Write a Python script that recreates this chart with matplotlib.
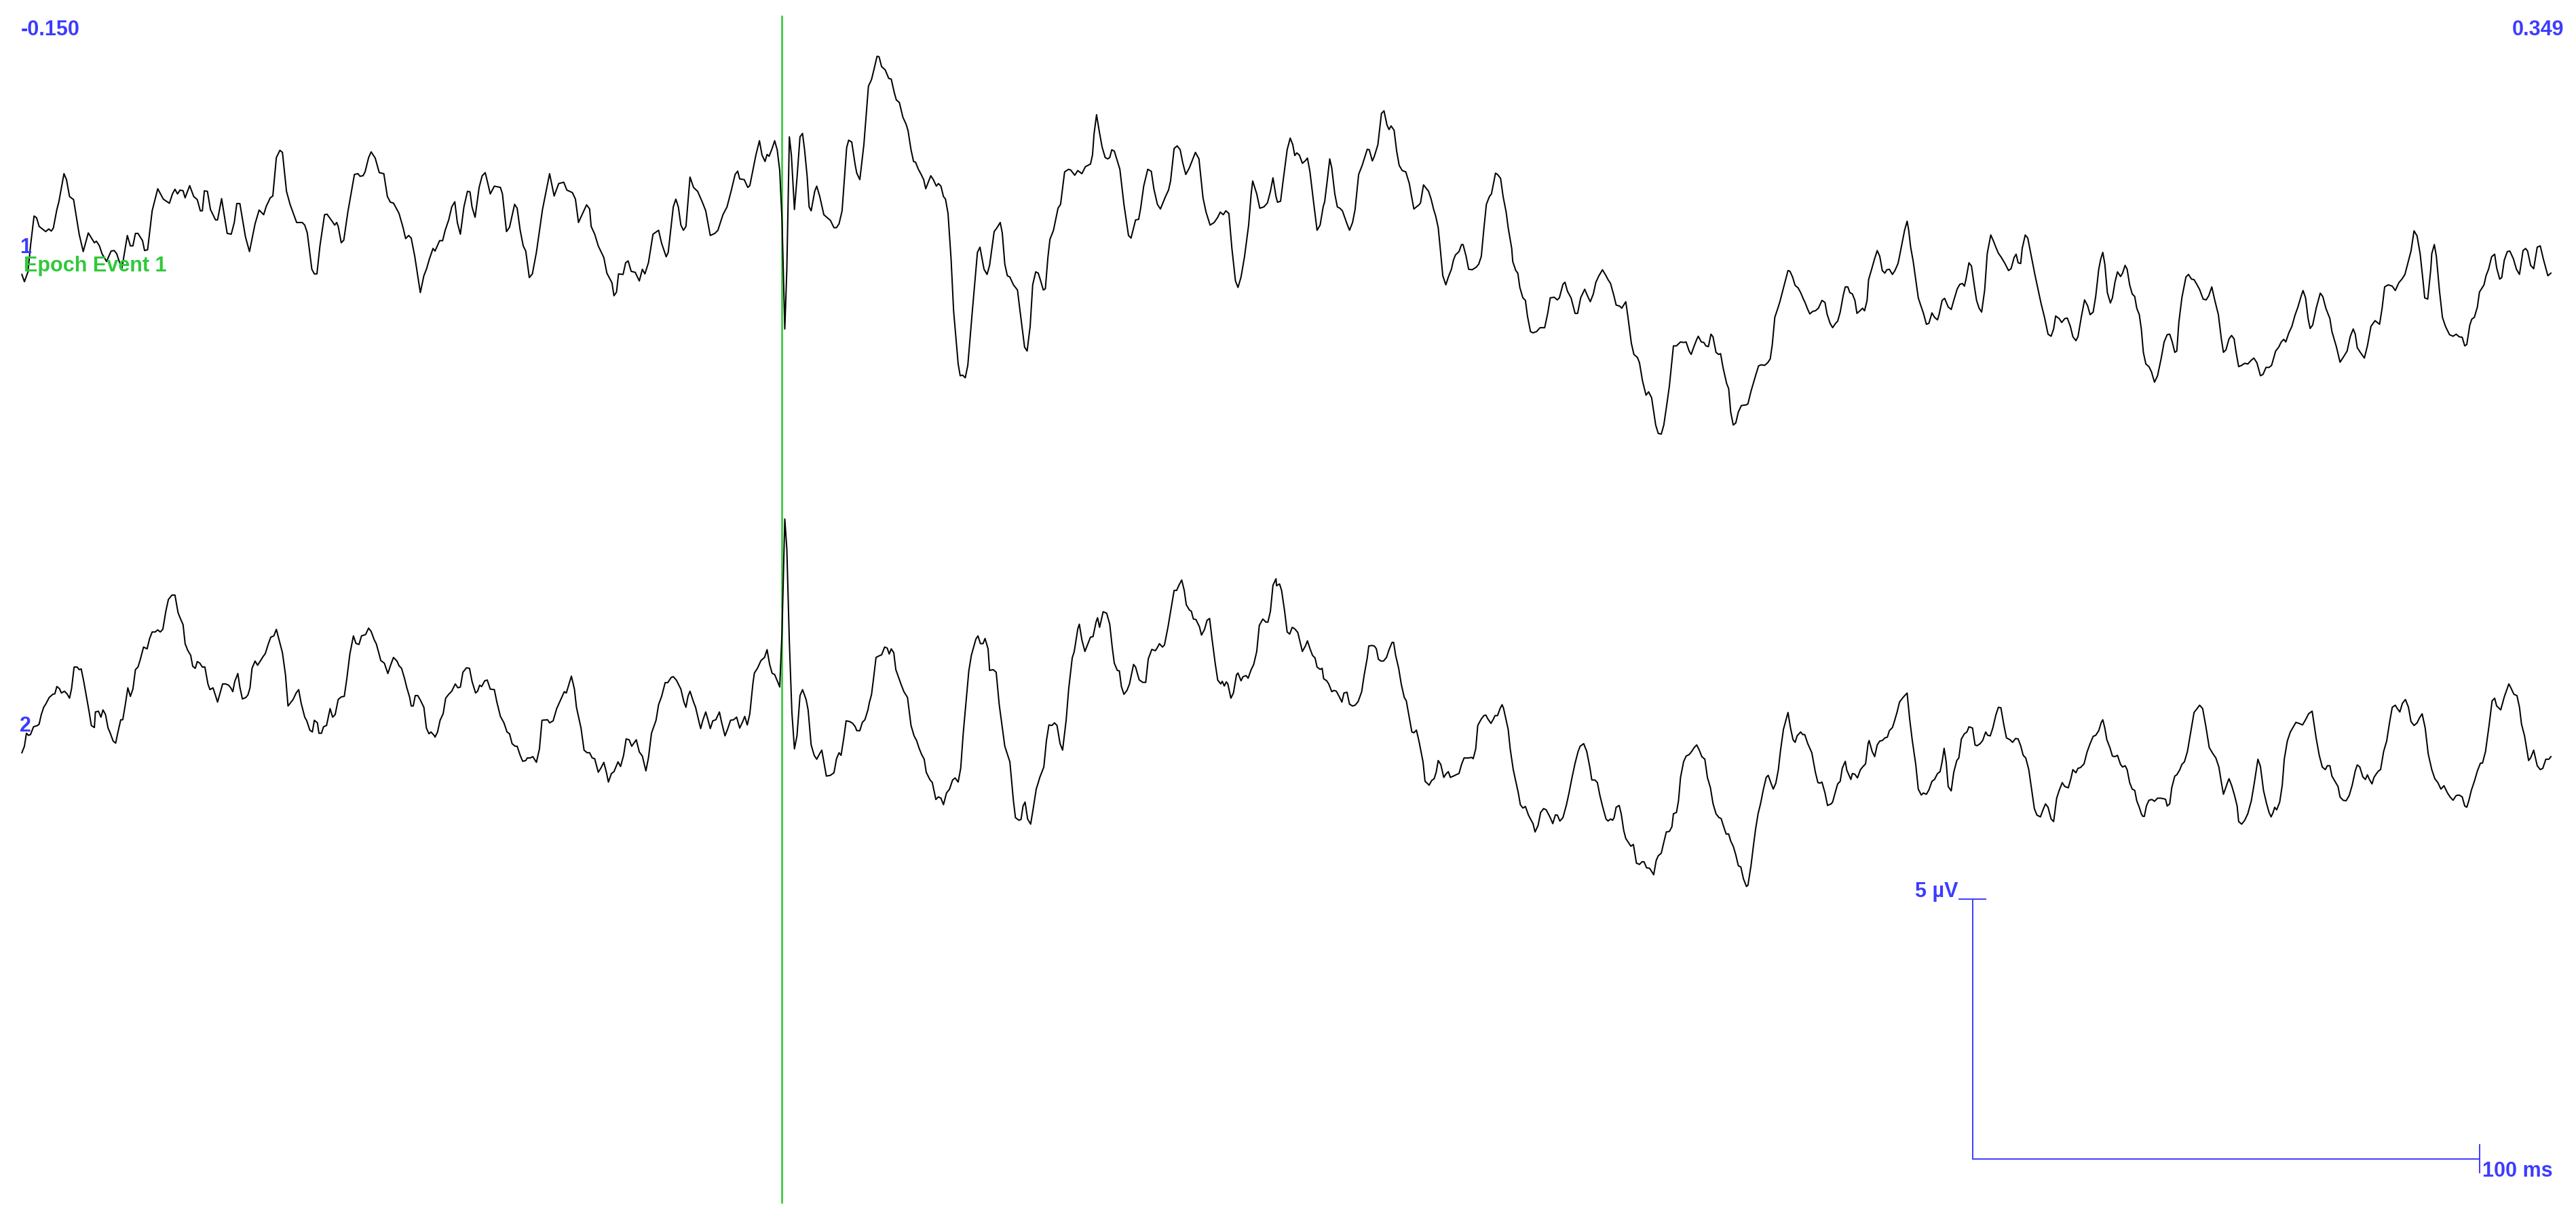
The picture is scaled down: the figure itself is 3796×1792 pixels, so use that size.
import matplotlib
matplotlib.use("Agg")
import matplotlib.pyplot as plt

plt.rcParams['font.family'] = ['Liberation Sans', 'DejaVu Sans']

# ---------------- data (time in ms, amplitude in microvolts) ----------------
ch1_t = [
 -149.9,-149.4,-148.7,-148.2,-147.5,-147.0,-146.5,-145.2,-144.6,-144.1,-143.7,-143.0,-142.6,-141.6,-141.1,-140.5,-139.7,-138.6,-137.8,-136.8,
 -135.6,-135.2,-134.6,-134.1,-133.2,-132.3,-131.7,-131.2,-130.2,-129.1,-128.5,-128.0,-127.5,-127.0,-126.1,-125.7,-125.1,-124.2,-123.1,-122.0,
 -120.8,-120.2,-119.7,-119.2,-118.7,-118.1,-117.7,-116.8,-116.0,-115.3,-114.7,-114.3,-113.9,-113.3,-112.7,-111.7,-111.3,-110.5,-109.4,-108.6,
 -108.0,-107.5,-106.9,-105.8,-105.0,-103.9,-103.1,-102.2,-101.7,-100.9,-100.4,-99.7,-99.0,-98.5,-97.7,-97.0,-95.7,-94.6,-94.1,-93.6,
 -92.7,-92.2,-91.7,-91.1,-90.2,-89.7,-88.6,-88.2,-87.8,-87.5,-86.9,-86.4,-85.6,-84.3,-83.6,-83.2,-82.6,-82.2,-81.5,-81.0,
 -80.2,-79.4,-78.5,-77.8,-77.2,-76.6,-75.5,-74.7,-74.2,-73.6,-73.1,-72.4,-71.3,-70.6,-70.1,-69.5,-68.8,
 -68.4,-67.5,-66.9,-66.4,-65.7,-65.1,-64.5,-64.0,-63.4,-62.7,-62.0,-61.5,-61.1,-60.5,-59.7,-59.1,-58.5,-58.1,-57.5,-56.7,
 -55.5,-55.1,-54.3,-53.7,-52.7,-52.2,-51.6,-51.0,-50.5,-49.8,-49.2,-48.4,-47.2,-45.8,-44.9,-44.0,-43.0,-42.4,-41.3,-40.7,
 -40.1,-38.5,-37.9,-37.6,-36.9,-36.2,-35.1,-34.5,-33.5,-33.1,-32.6,-32.2,-31.3,-30.8,-30.3,-29.7,-28.9,-28.1,-27.5,-27.0,
 -26.3,-25.4,-24.3,-23.7,-22.8,-22.4,-21.4,-20.9,-20.4,-19.9,-19.4,-18.9,-18.1,-17.4,-16.6,-15.7,-15.0,-14.1,-13.2,-12.6,
 -11.6,-10.8,-10.0,-9.2,-8.7,-8.3,-7.4,-6.7,-6.3,-5.1,-4.4,-3.9,-3.3,-2.9,-2.5,-1.9,-1.4,-0.9,-0.4,0.05,
 0.6,1.0,1.5,1.9,2.5,3.0,3.6,4.1,4.5,5.0,5.4,5.8,6.5,6.9,7.5,8.3,9.6,10.3,10.8,11.3,
 11.9,12.4,12.8,13.2,13.8,14.5,
 14.8,15.4,16.2,17.1,17.7,18.2,18.8,19.2,19.7,20.4,21.1,21.6,22.2,22.6,23.2,23.9,24.5,24.9,25.5,26.0,
 26.4,26.9,27.5,28.0,28.4,29.4,29.9,30.5,30.9,31.4,31.9,32.3,32.8,33.4,33.9,34.8,35.2,35.7,36.2,36.7,
 37.6,38.6,39.1,39.9,40.5,41.0,41.9,42.4,43.1,43.5,44.0,44.5,45.0,45.7,46.5,47.0,47.9,48.4,49.0,49.5,
 50.1,50.6,51.0,51.6,52.0,52.5,52.9,53.6,54.5,55.0,55.8,56.6,57.0,57.8,58.4,59.2,59.9,60.9,61.3,61.6,
 62.1,62.6,63.2,63.8,64.3,64.7,65.1,65.6,66.7,67.5,68.4,68.9,69.8,70.4,70.8,71.4,72.2,72.9,73.4,74.1,
 74.7,75.7,76.3,76.7,77.4,78.0,78.6,79.1,79.7,80.4,81.1,81.6,82.3,83.1,83.7,84.5,85.3,86.0,86.5,87.1,
 87.6,88.2,88.8,89.5,90.0,90.6,91.3,92.1,92.6,92.9,93.7,94.3,95.1,95.8,96.4,96.9,97.5,
 97.8,98.4,98.9,99.7,100.3,100.8,101.2,101.6,102.1,102.7,103.3,103.7,104.2,104.9,105.6,106.2,106.8,107.1,107.6,108.1,
 108.5,109.1,109.6,110.1,110.6,111.5,112.0,112.6,113.1,113.8,114.5,115.5,115.9,116.5,116.9,117.6,118.3,118.8,119.4,119.8,
 120.2,120.8,121.3,121.8,122.4,123.1,123.8,124.2,124.7,125.7,126.0,126.6,127.0,127.6,128.1,128.6,129.0,129.5,129.9,130.4,
 131.0,131.5,132.1,132.5,132.9,133.6,134.1,134.4,135.0,135.5,136.2,137.0,137.5,138.0,138.5,139.0,139.6,140.0,140.8,141.2,
 141.8,142.3,142.9,143.3,144.0,144.2,144.8,145.2,145.6,146.2,146.7,147.1,147.7,148.2,148.9,149.6,150.0,150.5,151.1,151.6,
 152.4,153.0,153.4,154.1,154.5,155.0,155.7,156.5,157.0,157.6,158.4,159.0,159.5,160.1,160.6,161.2,161.9,162.6,163.0,163.5,
 164.2,164.6,165.3,165.7,166.5,166.9,167.6,168.1,168.8,169.2,169.8,170.5,171.0,171.6,172.4,172.9,173.5,174.0,174.6,175.1,
 175.9,176.5,177.3,177.9,178.4,179.0,179.4,179.9,180.5,
 180.8,181.4,181.9,182.3,182.8,183.3,183.7,184.3,184.8,185.2,185.7,186.4,186.8,187.2,187.7,188.2,188.7,189.3,190.3,190.6,
 191.2,192.1,192.7,193.2,193.9,194.5,195.0,195.4,195.9,196.5,196.9,197.7,198.5,198.9,199.4,199.9,200.5,201.0,201.6,201.8,
 202.4,202.8,203.4,203.9,204.5,205.2,205.8,206.2,206.8,207.3,207.9,208.3,208.8,209.4,209.8,210.3,210.7,211.2,211.7,212.1,
 212.8,213.2,213.6,214.1,214.4,215.0,215.5,216.1,216.6,217.1,217.6,218.0,218.5,219.1,219.6,220.2,220.5,221.1,221.5,222.0,
 222.3,222.7,223.2,223.7,224.2,224.7,225.2,225.8,226.3,226.9,227.4,228.0,228.3,228.9,229.4,230.1,230.7,231.2,231.9,232.4,
 232.9,233.3,233.6,234.2,234.7,235.3,235.7,236.2,236.7,237.3,237.8,238.5,239.0,239.5,240.0,240.6,241.3,242.0,242.5,243.1,
 243.5,243.9,244.4,244.7,245.3,245.8,246.4,247.2,247.8,248.4,249.1,249.8,250.4,250.9,251.3,252.0,252.5,253.1,253.6,254.2,
 254.7,255.3,255.7,256.4,257.0,257.6,258.1,258.7,259.2,259.8,260.2,260.6,261.0,261.5,262.1,262.5,263.0,263.5,
 264.1,264.5,265.0,265.4,265.9,266.4,266.9,267.3,267.8,268.2,268.6,269.1,269.7,270.2,270.8,271.4,272.1,272.7,273.3,273.8,
 274.3,274.8,275.2,275.6,276.2,277.0,277.5,278.1,278.6,279.2,279.7,280.4,281.0,281.5,282.1,282.7,283.4,284.0,284.4,284.9,
 285.5,286.0,286.5,286.9,287.4,288.0,288.6,289.2,289.9,290.4,291.0,291.7,292.2,292.8,293.4,293.9,294.7,295.3,295.8,296.3,
 296.7,297.3,297.9,298.5,299.1,299.7,300.1,300.6,301.1,301.5,302.0,302.7,303.5,304.0,304.6,305.4,305.8,306.7,307.4,308.0,
 308.8,309.4,310.0,310.4,310.8,311.4,312.2,312.8,313.5,314.3,315.2,315.7,316.2,316.9,317.7,318.3,319.0,319.6,320.2,320.8,
 321.4,322.0,322.6,323.2,323.8,324.1,324.7,325.3,325.5,326.0,326.4,327.0,327.6,328.2,329.0,329.7,330.3,330.9,331.5,332.0,
 332.4,333.0,333.4,333.9,334.5,334.9,335.8,336.2,336.7,337.3,337.9,338.3,338.9,339.3,339.8,340.4,340.9,341.6,342.2,342.8,
 343.5,344.0,344.4,345.0,345.6,346.3,346.9,347.5,348.4,349.0]
ch1_uv = [
 -0.54,-0.68,-0.49,0.01,0.585,0.55,0.385,0.285,0.335,0.295,0.35,0.71,0.86,1.40,1.285,0.96,0.90,0.235,-0.10,0.26,
 0.07,0.10,0.01,-0.14,-0.29,-0.09,-0.08,-0.14,-0.44,0.21,0.01,0.01,0.25,0.25,0.11,-0.08,-0.065,0.685,1.11,0.91,
 0.83,1.01,1.10,1.01,1.085,1.07,0.935,1.17,0.96,0.90,0.685,0.685,1.07,1.06,0.71,0.51,0.51,0.92,0.25,0.235,
 0.46,0.825,0.825,0.185,-0.10,0.435,0.70,0.61,0.77,0.935,0.97,1.71,1.85,1.81,1.06,0.81,0.46,0.46,0.41,0.26,
 -0.44,-0.53,-0.53,0.01,0.61,0.62,0.47,0.41,0.46,0.385,0.07,0.12,0.66,1.385,1.40,1.35,1.36,1.435,1.71,1.82,
 1.70,1.42,1.40,0.96,0.85,0.835,0.635,0.36,0.15,0.21,0.16,-0.19,-0.89,-0.565,-0.44,-0.24,-0.04,
 -0.09,0.11,0.11,0.31,0.51,0.76,0.86,0.46,0.235,0.76,1.06,1.05,0.76,0.56,1.135,1.36,1.42,1.26,1.01,1.16,
 1.135,1.01,0.285,0.37,0.81,0.735,0.31,0.01,-0.09,-0.60,-0.53,-0.115,0.71,1.40,0.97,1.21,1.235,1.085,1.035,0.91,
 0.46,0.80,0.72,0.385,0.235,0.01,-0.215,-0.515,-0.70,-0.95,-0.88,-0.53,-0.54,-0.315,-0.28,-0.48,-0.50,-0.665,-0.44,-0.53,
 -0.315,0.235,0.31,0.06,-0.20,-0.115,0.76,0.91,0.76,0.41,0.31,0.385,1.335,1.135,1.06,0.86,0.685,0.21,0.25,0.31,
 0.61,0.76,1.06,1.385,1.45,1.30,1.285,1.135,1.17,1.76,2.035,1.76,1.635,1.77,1.735,1.885,2.035,1.86,1.46,0.51,
 -1.59,-0.44,2.11,1.76,0.71,1.31,2.11,2.175,1.86,1.36,0.76,0.685,1.06,1.16,0.96,0.61,0.50,0.36,0.36,0.435,
 0.685,1.36,1.90,2.045,2.01,1.56,
 1.41,1.285,1.96,3.085,3.21,3.41,3.66,3.65,3.46,3.40,3.235,3.22,2.96,2.82,2.77,2.485,2.36,2.235,1.86,1.635,
 1.62,1.495,1.385,1.285,1.11,1.36,1.285,1.16,1.21,1.16,0.96,0.91,0.635,-0.24,-1.24,-2.265,-2.49,-2.48,-2.53,-2.29,
 -1.24,-0.115,-0.015,-0.44,-0.54,-0.365,0.285,0.35,0.46,0.26,-0.34,-0.565,-0.59,-0.74,-0.84,-1.24,-1.94,-2.015,-1.54,-0.74,
 -0.49,-0.515,-0.64,-0.84,-0.815,-0.215,0.135,0.31,0.735,0.81,1.435,1.485,1.47,1.37,1.46,1.40,1.535,1.585,1.76,2.16,
 2.535,2.235,1.91,1.71,1.685,1.71,1.86,1.835,1.485,0.81,0.21,0.16,0.51,0.52,0.735,1.16,1.485,1.445,1.11,0.81,
 0.72,0.96,1.085,1.26,1.885,1.935,1.86,1.61,1.385,1.51,1.685,1.81,1.685,0.935,0.66,0.41,0.46,0.56,0.66,0.61,
 0.685,0.635,-0.04,-0.665,-0.79,-0.59,-0.19,0.41,1.01,1.26,1.01,0.735,0.76,0.835,1.06,1.32,0.96,
 0.85,0.87,1.26,1.86,2.085,1.96,1.75,1.80,1.76,1.60,1.65,1.70,1.435,0.86,0.31,0.41,0.76,0.86,1.26,1.685,
 1.51,1.01,0.76,0.735,0.685,0.435,0.31,0.46,0.71,1.385,1.56,1.87,1.86,1.645,1.735,1.96,2.56,2.61,2.335,2.25,
 2.32,2.235,1.835,1.56,1.46,1.435,1.21,0.985,0.72,0.80,0.835,1.185,1.135,1.06,0.91,0.71,0.585,0.36,-0.04,-0.565,
 -0.74,-0.59,-0.44,-0.265,-0.165,-0.10,0.035,0.035,-0.19,-0.44,-0.45,-0.40,-0.34,-0.19,0.335,0.81,0.96,1.01,1.41,1.385,
 1.31,0.96,0.66,0.36,-0.04,-0.29,-0.465,-0.515,-0.79,-0.99,-1.04,-1.34,-1.64,-1.665,-1.64,-1.565,-1.565,-1.565,-1.29,-0.99,
 -0.98,-1.03,-0.99,-0.73,-0.69,-0.865,-0.99,-1.29,-1.29,-0.99,-0.825,-0.965,-1.065,-0.915,-0.69,-0.565,-0.45,-0.565,-0.64,-0.715,
 -0.965,-1.13,-1.15,-1.19,-1.065,-1.34,-1.865,-2.08,-2.14,-2.24,-2.59,-2.865,-2.80,-2.915,-3.44,-3.60,-3.615,-3.44,-3.04,-2.69,
 -1.915,-1.915,-1.84,-1.85,-1.84,-2.015,-2.08,-1.94,-1.79,
 -1.73,-1.84,-1.85,-1.915,-1.93,-1.69,-1.74,-2.04,-2.08,-2.065,-2.34,-2.64,-2.74,-3.19,-3.44,-3.40,-3.19,-3.065,-3.05,-3.03,
 -2.79,-2.49,-2.30,-2.28,-2.29,-2.24,-2.165,-1.89,-1.365,-1.19,-1.065,-0.765,-0.465,-0.48,-0.59,-0.75,-0.80,-0.89,-1.03,-1.065,
 -1.215,-1.30,-1.25,-1.24,-1.19,-1.04,-1.08,-1.30,-1.48,-1.565,-1.48,-1.44,-1.265,-0.94,-0.78,-0.78,-0.89,-0.915,-1.04,-1.29,
 -1.23,-1.19,-1.24,-1.04,-0.64,-0.44,-0.265,-0.08,-0.19,-0.465,-0.515,-0.45,-0.44,-0.54,-0.465,-0.33,-0.19,0.11,0.31,0.485,
 0.32,-0.015,-0.29,-0.64,-0.99,-1.14,-1.28,-1.50,-1.48,-1.28,-1.365,-1.415,-1.315,-1.04,-1.0,-1.165,-1.215,-1.04,-0.815,-0.73,
 -0.715,-0.765,-0.64,-0.315,-0.38,-0.79,-1.04,-1.19,-1.265,-0.84,-0.14,0.22,0.11,-0.015,-0.13,-0.215,-0.33,-0.465,-0.43,-0.215,
 -0.15,-0.315,-0.33,-0.04,0.22,0.16,-0.14,-0.54,-0.815,-1.09,-1.365,-1.69,-1.73,-1.59,-1.34,-1.39,-1.465,-1.39,-1.38,-1.54,
 -1.74,-1.815,-1.74,-1.34,-1.03,-1.14,-1.315,-1.265,-0.965,-0.44,-0.24,-0.115,-0.34,-0.89,-1.09,-0.99,-0.69,-0.49,
 -0.58,-0.515,-0.365,-0.44,-0.74,-0.915,-0.965,-1.19,-1.315,-1.59,-2.04,-2.265,-2.315,-2.415,-2.615,-2.49,-2.165,-1.84,-1.70,-1.69,
 -1.84,-2.04,-2.015,-1.465,-0.99,-0.59,-0.54,-0.63,-0.64,-0.74,-0.83,-1.015,-1.03,-0.95,-0.78,-1.04,-1.315,-1.79,-2.04,-1.99,
 -1.78,-1.715,-1.78,-2.04,-2.315,-2.29,-2.25,-2.265,-2.19,-2.15,-2.24,-2.49,-2.465,-2.33,-2.33,-2.29,-2.015,-1.94,-1.84,-1.79,
 -1.84,-1.665,-1.54,-1.33,-1.165,-0.965,-0.85,-0.99,-1.39,-1.58,-1.515,-1.19,-0.90,-0.965,-1.19,-1.39,-1.64,-1.94,-2.23,-2.14,
 -2.015,-1.74,-1.59,-1.69,-1.95,-2.04,-2.15,-1.915,-1.54,-1.43,-1.50,-1.19,-0.78,-0.74,-0.765,-0.85,-0.70,-0.63,-0.54,-0.315,
 -0.09,0.30,0.20,-0.14,-0.69,-0.99,-1.015,-0.44,-0.14,0.035,-0.19,-0.84,-1.365,-1.54,-1.70,-1.73,-1.69,-1.74,-1.75,-1.915,
 -1.89,-1.515,-1.40,-1.365,-1.165,-0.88,-0.74,-0.565,-0.44,-0.20,-0.15,-0.415,-0.63,-0.60,-0.265,-0.10,-0.09,-0.24,-0.44,-0.54,
 -0.08,-0.04,-0.09,-0.365,-0.43,-0.015,0.01,-0.24,-0.565,-0.515]

ch2_t = [
 -149.9,-149.4,-149.0,-148.6,-148.2,-147.6,-146.8,-146.5,-146.1,-145.6,-145.2,-144.5,-143.8,-143.4,-143.0,-142.5,-142.1,-141.5,-141.0,-140.5,
 -140.1,-139.6,-139.0,-138.6,-138.2,-137.7,-137.2,-136.7,-136.2,-135.6,-135.4,-134.8,-134.3,-133.9,-133.4,-132.9,-132.5,-131.9,-131.4,-131.0,
 -130.4,-130.0,-129.5,-129.0,-128.5,-128.0,-127.5,-127.0,-126.6,-125.9,-125.2,-124.7,-124.2,-123.6,-123.1,-122.6,-122.1,-121.5,-121.0,-120.3,
 -119.7,-119.1,-118.7,-118.1,-117.7,-117.2,-116.6,-116.2,-115.7,-115.3,-114.8,-114.3,-113.8,-113.2,-112.8,-112.2,-111.7,-111.3,-110.8,-110.3,
 -109.7,-109.1,-108.6,-108.3,-107.9,-107.3,-106.9,-106.4,-105.7,-105.3,-104.9,-104.5,-103.9,-103.4,-102.8,-102.3,-101.9,-101.3,-100.8,-100.2,
 -99.7,-99.1,-98.5,-97.9,-97.4,-96.8,-96.4,-95.8,-95.3,-94.8,-94.1,-93.7,-93.1,-92.6,-92.2,-91.6,-91.3,-90.8,-90.4,-89.8,
 -89.1,-88.6,-88.1,-87.5,-86.9,-86.3,-85.8,-85.2,-84.5,-84.0,-83.4,-82.9,-82.1,-81.5,-81.0,-80.4,-80.0,-79.5,-79.1,-78.4,
 -77.7,-77.2,-76.6,-75.9,-75.5,-75.0,-74.4,-74.0,-73.4,-73.1,-72.7,-72.3,-71.8,-71.3,-70.6,-70.1,-69.6,-69.2,-68.5,
 -68.4,-67.9,-67.4,-66.8,-66.3,-65.7,-65.1,-64.4,-63.9,-63.4,-62.9,-62.2,-61.6,-61.1,-60.4,-60.0,-59.6,-59.2,-58.6,-58.1,
 -57.5,-56.7,-56.2,-55.5,-54.8,-54.2,-53.7,-53.2,-52.6,-52.2,-51.6,-51.1,-50.5,-50.2,-49.6,-49.1,-48.4,-47.8,-47.3,-46.2,
 -45.8,-45.1,-44.4,-43.6,-42.9,-42.5,-41.5,-40.9,-40.5,-39.6,-39.0,-38.4,-37.9,-37.4,-36.9,-36.2,-35.7,-35.1,-34.6,-34.2,
 -33.6,-33.1,-32.3,-31.8,-31.2,-30.7,-30.1,-29.6,-28.7,-28.1,-27.5,-26.8,-26.3,-25.7,-25.2,-24.8,-24.3,-23.7,-23.0,-22.5,
 -21.8,-21.4,-20.8,-19.9,-19.3,-18.9,-18.5,-18.1,-17.4,-17.0,-16.4,-16.0,-15.6,-15.0,-14.5,-14.1,-13.6,-13.0,-12.3,-11.9,
 -11.2,-10.7,-10.1,-9.5,-8.9,-8.3,-7.7,-7.3,-6.8,-6.3,-5.7,-5.4,-4.8,-4.1,-3.4,-2.9,-2.4,-1.9,-1.4,-0.7,
 -0.4,0.05,0.6,1.0,1.5,2.0,2.5,3.0,3.6,4.1,4.8,5.2,5.8,6.4,6.9,7.5,7.9,8.3,8.8,9.6,
 10.3,10.8,11.3,11.7,12.3,12.7,13.4,14.0,14.5,
 14.8,15.4,15.9,16.4,17.0,17.3,17.7,18.1,18.6,19.2,19.7,20.3,20.8,21.2,21.6,22.1,22.5,23.0,23.6,24.1,
 24.8,25.5,26.1,26.6,27.1,27.6,28.1,28.5,29.2,29.7,30.4,30.9,31.4,31.9,32.5,33.1,33.7,34.2,34.8,35.3,
 35.8,36.4,36.9,37.4,37.9,38.3,38.7,39.2,39.7,40.1,40.7,41.0,41.7,42.3,42.9,44.0,45.0,45.7,46.1,46.8,
 47.2,47.6,48.0,48.5,49.1,49.6,50.2,50.6,50.9,51.7,52.2,52.7,53.3,53.8,54.3,54.9,55.4,56.1,56.6,57.3,
 57.7,58.4,58.7,59.2,59.8,60.4,60.9,61.4,62.0,62.3,62.7,63.4,64.1,64.7,65.2,65.6,66.2,66.6,67.0,67.5,
 68.1,68.6,69.4,69.8,70.5,71.2,71.8,72.3,73.0,73.7,74.1,74.5,75.1,75.5,76.2,76.8,77.4,77.9,78.4,78.9,
 79.4,79.8,80.4,80.8,81.2,81.7,82.4,82.8,83.4,83.9,84.4,84.9,85.5,86.0,86.6,86.9,87.3,87.7,88.0,88.6,
 89.1,89.7,90.0,90.6,91.0,91.6,92.0,92.6,93.1,93.7,94.2,94.9,95.5,95.9,96.4,96.9,97.5,
 97.6,98.2,98.6,99.2,99.7,100.2,100.7,101.2,101.8,102.2,102.7,103.3,103.7,104.2,104.7,105.2,105.6,106.2,106.6,106.9,
 107.5,107.9,108.5,108.9,109.4,110.0,110.5,110.9,111.5,112.0,112.6,113.1,113.7,114.4,114.9,115.5,115.8,116.4,116.9,117.3,
 117.7,118.2,118.7,119.3,119.8,120.4,120.7,121.1,121.7,122.2,122.8,123.2,123.8,124.3,124.7,125.2,125.7,126.1,126.5,126.9,
 127.3,127.7,128.2,128.7,129.1,129.5,130.0,130.6,131.1,131.5,131.9,132.5,133.0,133.6,134.1,134.6,135.5,136.1,136.4,136.9,
 137.3,138.0,138.5,138.9,139.3,139.9,140.4,140.7,141.2,141.7,142.1,142.4,142.9,143.3,143.7,144.3,144.8,145.3,145.7,146.2,
 146.7,147.3,147.7,148.2,148.6,149.2,149.7,150.3,150.8,151.6,152.1,152.6,153.0,153.5,154.1,154.8,155.3,155.9,156.5,157.1,
 157.5,158.2,158.8,159.4,159.8,160.4,160.9,161.4,161.9,162.6,163.0,163.5,163.9,164.2,164.6,165.2,165.6,166.1,166.5,167.0,
 167.5,168.0,168.6,169.2,169.7,170.1,170.6,171.2,171.7,172.0,172.5,172.9,173.5,174.0,174.5,175.1,175.6,175.9,176.5,176.9,
 177.3,177.9,178.4,179.0,179.5,180.0,180.5,
 181.0,181.5,182.1,182.6,183.2,183.7,184.3,184.9,185.3,185.9,186.3,186.8,187.2,187.7,188.2,188.7,189.2,189.7,190.3,190.6,
 191.2,191.7,192.1,192.6,193.1,193.6,194.2,194.6,195.2,195.6,196.1,196.6,197.0,197.6,198.5,199.0,199.5,199.9,200.3,201.0,
 201.4,201.8,202.4,203.2,203.9,204.4,204.8,205.2,205.8,206.3,207.0,207.3,207.9,208.3,208.8,209.2,209.8,210.1,210.9,211.2,
 211.7,212.2,212.8,213.3,213.8,214.3,214.5,215.1,215.6,216.1,216.6,217.1,217.6,218.1,218.5,219.1,219.4,220.0,220.5,221.2,
 222.0,222.5,223.0,223.7,224.2,224.8,225.2,225.8,226.3,226.9,227.4,228.0,228.5,228.9,229.3,229.7,230.1,230.7,231.2,231.8,
 232.2,232.7,233.3,233.8,234.2,234.9,235.4,235.8,236.4,236.9,237.5,237.9,238.4,238.9,239.5,240.0,240.5,241.1,241.6,242.3,
 242.8,243.4,243.9,244.4,244.9,245.4,246.0,246.5,247.1,247.6,248.3,248.8,249.3,249.8,250.4,250.9,251.5,252.0,252.6,253.1,
 253.8,254.3,254.7,255.3,255.7,256.2,256.9,257.5,258.1,258.7,259.2,259.8,260.3,260.6,261.0,261.4,262.0,262.5,263.0,263.5,
 264.1,264.5,265.0,265.4,265.9,266.4,266.9,267.3,267.8,268.2,268.5,268.8,269.2,269.7,270.3,270.8,271.4,272.0,272.6,273.0,
 273.3,273.8,274.2,274.8,275.2,275.8,276.2,276.7,277.3,277.9,278.6,279.2,279.7,280.3,280.9,281.6,282.3,282.9,283.5,284.0,
 284.4,285.2,285.5,286.0,286.6,287.1,287.4,288.0,288.6,289.2,289.9,290.5,291.2,291.7,292.3,292.9,293.4,293.8,294.2,294.5,
 294.9,295.5,296.0,296.4,297.0,297.6,298.2,298.7,299.3,300.0,300.6,301.2,301.9,302.7,303.3,303.9,304.5,304.9,305.4,305.8,
 306.4,307.0,307.4,308.0,308.6,309.2,309.8,310.4,310.8,311.3,311.9,312.4,312.8,313.2,313.7,314.1,314.6,315.0,315.4,316.0,
 316.6,317.2,317.7,318.3,318.7,319.2,319.7,320.3,320.9,321.4,322.0,322.6,323.1,323.6,324.2,324.8,325.5,326.1,326.7,327.3,
 327.9,328.6,329.1,329.7,330.3,330.9,331.5,332.0,332.4,332.8,333.3,333.9,334.5,335.1,335.5,336.1,336.8,337.4,337.9,338.3,
 339.1,339.8,340.3,340.7,341.1,341.7,342.3,342.8,343.2,343.8,344.6,345.0,345.6,346.3,346.9,347.4,348.0,348.6,349.0]
ch2_uv = [
 -0.58,-0.455,-0.205,-0.245,-0.23,-0.08,-0.055,-0.03,0.145,0.295,0.355,0.485,0.545,0.555,0.695,0.655,0.57,0.605,0.555,0.47,
 0.655,1.07,1.07,1.02,1.035,0.795,0.52,0.245,-0.055,-0.095,0.205,0.22,0.105,0.245,0.155,-0.105,-0.195,-0.355,-0.395,-0.205,
 0.055,0.055,0.345,0.67,0.505,0.645,1.02,1.07,1.195,1.455,1.42,1.62,1.745,1.745,1.785,1.745,1.795,2.145,2.37,2.455,
 2.455,2.12,2.02,1.885,1.52,1.395,1.295,1.085,1.045,1.175,1.145,1.07,1.07,0.745,0.635,0.67,0.52,0.395,0.57,0.745,
 0.745,0.72,0.655,0.595,0.795,0.945,0.685,0.455,0.485,0.535,0.67,1.045,1.185,1.105,1.195,1.275,1.325,1.51,1.645,1.67,
 1.795,1.57,1.345,0.92,0.32,0.395,0.445,0.57,0.635,0.37,0.105,0.035,-0.145,-0.18,0.045,-0.005,-0.205,-0.205,-0.08,-0.055,
 0.27,0.105,0.155,0.445,0.495,0.505,0.845,1.32,1.67,1.525,1.505,1.67,1.695,1.82,1.755,1.595,1.52,1.345,1.195,1.145,
 0.945,1.095,1.255,1.185,1.095,1.045,0.845,0.685,0.485,0.32,0.32,0.52,0.52,0.435,0.295,-0.105,-0.215,-0.18,-0.255,
 -0.28,-0.18,0.045,0.17,0.47,0.545,0.605,0.745,0.67,0.685,0.97,1.055,1.045,0.795,0.57,0.605,0.72,0.695,0.805,0.82,
 0.645,0.635,0.395,0.12,-0.005,-0.18,-0.215,-0.405,-0.455,-0.455,-0.63,-0.745,-0.73,-0.68,-0.68,-0.655,-0.765,-0.505,0.045,0.055,
 -0.005,0.035,0.27,0.445,0.595,0.57,0.895,0.645,0.295,-0.105,-0.53,-0.58,-0.58,-0.68,-0.695,-0.955,-0.88,-0.765,-0.955,-1.145,
 -0.98,-0.945,-0.755,-0.845,-0.63,-0.315,-0.33,-0.455,-0.33,-0.565,-0.645,-0.93,-0.68,-0.205,-0.065,0.045,0.345,0.505,0.77,0.77,
 0.87,0.885,0.82,0.645,0.395,0.295,0.505,0.605,0.395,0.295,0.045,-0.115,0.035,0.205,0.035,-0.115,0.035,0.055,0.205,0.02,
 -0.255,-0.13,0.045,0.055,0.105,-0.105,0.02,0.12,-0.045,0.17,0.745,0.955,1.045,1.195,1.255,1.405,1.125,0.95,0.925,0.76,
 0.685,1.745,3.92,3.345,1.545,0.195,-0.505,-0.255,0.52,0.635,0.445,0.245,-0.43,-0.63,-0.705,-0.595,-0.53,-0.755,-1.03,-1.015,
 -0.965,-0.695,-0.58,-0.63,-0.255,0.035,0.02,-0.015,-0.08,
 -0.155,-0.155,0.005,0.055,0.245,0.395,0.535,0.845,1.255,1.285,1.305,1.455,1.435,1.32,1.42,1.345,1.02,0.885,0.72,0.595,
 0.485,-0.055,-0.255,-0.345,-0.495,-0.615,-0.705,-0.955,-1.095,-1.155,-1.48,-1.43,-1.455,-1.58,-1.355,-1.28,-1.105,-1.065,-1.145,-0.88,
 -0.205,0.445,0.995,1.295,1.47,1.61,1.67,1.52,1.52,1.62,1.42,1.005,1.02,0.97,0.345,-0.455,-0.755,-1.505,-1.83,-1.88,
 -1.865,-1.605,-1.53,-1.855,-1.955,-1.655,-1.28,-1.155,-1.055,-0.855,-0.355,-0.045,-0.055,-0.005,-0.055,-0.405,-0.53,0.045,0.645,1.245,
 1.37,1.805,1.895,1.595,1.37,1.52,1.645,1.655,1.935,2.02,1.835,2.135,2.105,1.895,1.445,1.145,1.005,0.995,0.695,0.545,
 0.62,0.745,1.12,1.07,0.825,0.775,0.775,1.225,1.41,1.385,1.445,1.52,1.455,1.495,1.845,2.195,2.545,2.545,2.655,2.745,
 2.545,2.27,2.17,2.145,1.995,1.985,1.845,1.685,1.795,1.97,2.005,1.595,1.145,0.82,0.745,0.795,0.705,0.785,0.745,0.47,
 0.57,0.92,0.955,0.805,0.885,0.905,0.855,1.02,1.12,1.37,1.87,1.995,1.935,1.935,2.145,2.645,2.77,
 2.635,2.67,2.545,2.145,1.745,1.705,1.835,1.805,1.735,1.575,1.37,1.475,1.575,1.425,1.295,1.245,1.07,1.025,1.045,0.845,
 0.805,0.745,0.595,0.62,0.605,0.495,0.395,0.57,0.585,0.355,0.32,0.335,0.405,0.595,0.92,1.245,1.475,1.485,1.475,1.42,
 1.22,1.185,1.185,1.255,1.405,1.545,1.545,1.295,1.045,0.745,0.485,0.42,0.095,-0.18,-0.195,-0.145,-0.355,-0.555,-0.755,-1.13,
 -1.165,-1.205,-1.115,-1.08,-0.955,-0.73,-0.805,-1.055,-0.98,-0.945,-1.055,-1.03,-1.005,-0.98,-0.805,-0.68,-0.68,-0.67,-0.695,-0.505,
 -0.055,0.07,0.135,0.145,0.07,-0.015,0.07,0.135,0.135,0.27,0.345,0.27,0.045,-0.13,-0.505,-0.905,-1.13,-1.355,-1.58,-1.645,
 -1.615,-1.78,-1.855,-1.945,-2.105,-1.98,-1.73,-1.655,-1.68,-1.83,-1.945,-1.78,-1.78,-1.895,-1.83,-1.58,-1.355,-1.055,-0.78,-0.555,
 -0.455,-0.405,-0.555,-0.855,-1.105,-1.105,-1.155,-1.405,-1.605,-1.855,-1.895,-1.855,-1.88,-1.83,-1.63,-1.595,-1.755,-2.08,-2.23,-2.305,
 -2.38,-2.345,-2.705,-2.73,-2.68,-2.68,-2.795,-2.805,-2.88,-2.93,-2.655,-2.565,-2.515,-2.305,-2.105,-2.095,-2.005,-1.755,-1.73,-1.505,
 -1.055,-0.755,-0.645,-0.615,-0.555,-0.48,-0.43,
 -0.53,-0.655,-0.705,-1.055,-1.255,-1.555,-1.755,-1.83,-1.845,-2.03,-2.145,-2.145,-2.28,-2.38,-2.545,-2.755,-2.78,-3.005,-3.155,-3.13,
 -2.755,-2.355,-2.055,-1.755,-1.555,-1.305,-1.055,-1.015,-1.18,-1.28,-1.165,-0.905,-0.555,-0.13,0.195,-0.105,-0.33,-0.38,-0.255,-0.18,
 -0.23,-0.23,-0.405,-0.58,-0.955,-1.155,-1.165,-1.145,-1.355,-1.595,-1.565,-1.53,-1.315,-1.18,-1.13,-0.88,-0.745,-0.915,-1.095,-0.98,
 -0.995,-1.065,-0.905,-0.845,-0.795,-0.405,-0.345,-0.555,-0.655,-0.43,-0.355,-0.345,-0.295,-0.28,-0.155,-0.095,-0.005,0.195,0.395,0.485,
 0.57,0.07,-0.33,-0.805,-1.28,-1.395,-1.355,-1.38,-1.295,-1.13,-1.095,-0.98,-0.945,-0.755,-0.495,-0.755,-1.23,-1.315,-0.955,-0.73,
 -0.68,-0.315,-0.215,-0.18,-0.08,-0.105,-0.43,-0.445,-0.405,-0.345,-0.18,-0.245,-0.255,-0.105,0.145,0.295,0.285,-0.055,-0.295,-0.33,
 -0.38,-0.305,-0.315,-0.445,-0.63,-0.68,-0.905,-1.245,-1.655,-1.78,-1.815,-1.68,-1.565,-1.63,-1.855,-1.905,-1.455,-1.305,-1.155,-1.23,
 -1.255,-1.08,-0.905,-0.965,-0.88,-0.865,-0.795,-0.565,-0.405,-0.265,-0.245,-0.155,0.005,0.055,-0.105,-0.33,-0.48,-0.645,-0.655,-0.63,
 -0.805,-0.855,-0.83,-0.905,-1.155,-1.28,-1.305,-1.505,-1.63,-1.755,-1.805,-1.805,-1.605,-1.495,-1.48,-1.515,-1.455,-1.455,-1.465,-1.48,
 -1.605,-1.565,-1.255,-1.03,-1.005,-0.905,-0.805,-0.755,-0.555,-0.205,0.195,0.27,0.335,0.27,-0.055,-0.48,-0.595,-0.68,-0.855,-1.155,
 -1.38,-1.155,-1.08,-1.205,-1.405,-1.605,-1.905,-1.955,-1.88,-1.755,-1.505,-1.155,-0.705,-0.845,-1.305,-1.555,-1.73,-1.815,-1.73,-1.63,
 -1.68,-1.53,-1.205,-0.705,-0.355,-0.18,-0.08,0.005,-0.015,-0.045,0.055,0.17,0.22,-0.305,-0.63,-0.855,-0.905,-0.83,-0.83,-1.03,
 -1.13,-1.23,-1.43,-1.495,-1.505,-1.405,-1.205,-0.93,-0.815,-0.855,-1.045,-1.095,-1.005,-1.095,-1.18,-1.055,-0.98,-0.93,-0.905,-0.555,
 -0.355,0.02,0.295,0.335,0.27,0.205,0.37,0.445,0.295,0.02,-0.055,-0.005,0.095,0.17,-0.105,-0.605,-0.905,-1.08,-1.155,-1.28,
 -1.215,-1.355,-1.43,-1.495,-1.405,-1.395,-1.43,-1.605,-1.63,-1.505,-1.305,-1.13,-0.93,-0.78,-0.78,-0.555,-0.055,0.42,0.47,0.32,
 0.245,0.495,0.635,0.745,0.67,0.545,0.52,0.295,-0.03,-0.255,-0.73,-0.68,-0.53,-0.83,-0.905,-0.88,-0.705,-0.705,-0.655]

channel_labels = ["1", "2"]
event_label = "Epoch Event 1"
event_time_ms = 0.0
time_start_label = "-0.150"
time_end_label = "0.349"
scale_uv = 5
scale_ms = 100
scale_uv_label = "5 µV"
scale_ms_label = "100 ms"

# ---------------- layout ----------------
W, H = 3796, 1792
PX_PER_MS = 7.47
PX_PER_UV = 76.54
X0_PX = 1152          # pixel column of t = 0

fig = plt.figure(figsize=(W / 100, H / 100), dpi=100)
fig.patch.set_facecolor("white")
ax = fig.add_axes([0, 0, 1, 1])
ax.set_xlim(-X0_PX / PX_PER_MS, (W - X0_PX) / PX_PER_MS)
ax.set_ylim(-H / PX_PER_UV, 0)
ax.axis("off")

offsets = [-363.1 / PX_PER_UV, -1064.9 / PX_PER_UV]

BLUE = "#3c3cff"
GREEN_TXT = "#2fc93a"
GREEN_LINE = "#38c738"

# event marker
ax.axvline(event_time_ms, ymin=1 - 1772 / H, ymax=1 - 24 / H, color=GREEN_LINE, lw=1.9, zorder=1)

# traces
for tt, vv, off in [(ch1_t, ch1_uv, offsets[0]), (ch2_t, ch2_uv, offsets[1])]:
    ax.plot(tt, [v + off for v in vv], color="black", lw=1.45, zorder=2,
            solid_joinstyle="round")

# scale bar
sb_x = 234.9
sb_top = -1325 / PX_PER_UV
sb_bot = sb_top - scale_uv
ax.plot([sb_x, sb_x], [sb_top, sb_bot], color=BLUE, lw=1.4)
ax.plot([sb_x, sb_x + scale_ms], [sb_bot, sb_bot], color=BLUE, lw=1.4)
ax.plot([sb_x - 2.6, sb_x + 2.6], [sb_top, sb_top], color=BLUE, lw=1.4)
ax.plot([sb_x + scale_ms, sb_x + scale_ms], [sb_bot + 0.27, sb_bot - 0.27], color=BLUE, lw=1.4)


def fpos(x, y):
    return x / W, 1 - y / H


FS = 22
kw = dict(fontsize=FS, fontweight="bold", va="baseline")
fig.text(*fpos(31, 52), time_start_label, color=BLUE, ha="left", **kw)
fig.text(*fpos(3778, 52), time_end_label, color=BLUE, ha="right", **kw)
fig.text(*fpos(29, 373), channel_labels[0], color=BLUE, ha="left", **kw)
fig.text(*fpos(35, 400), event_label, color=GREEN_TXT, ha="left", **kw)
fig.text(*fpos(29, 1078), channel_labels[1], color=BLUE, ha="left", **kw)
fig.text(*fpos(2886, 1322), scale_uv_label, color=BLUE, ha="right", **kw)
fig.text(*fpos(3658, 1734), scale_ms_label, color=BLUE, ha="left", **kw)

fig.savefig("out.png", dpi=100, facecolor="white")
